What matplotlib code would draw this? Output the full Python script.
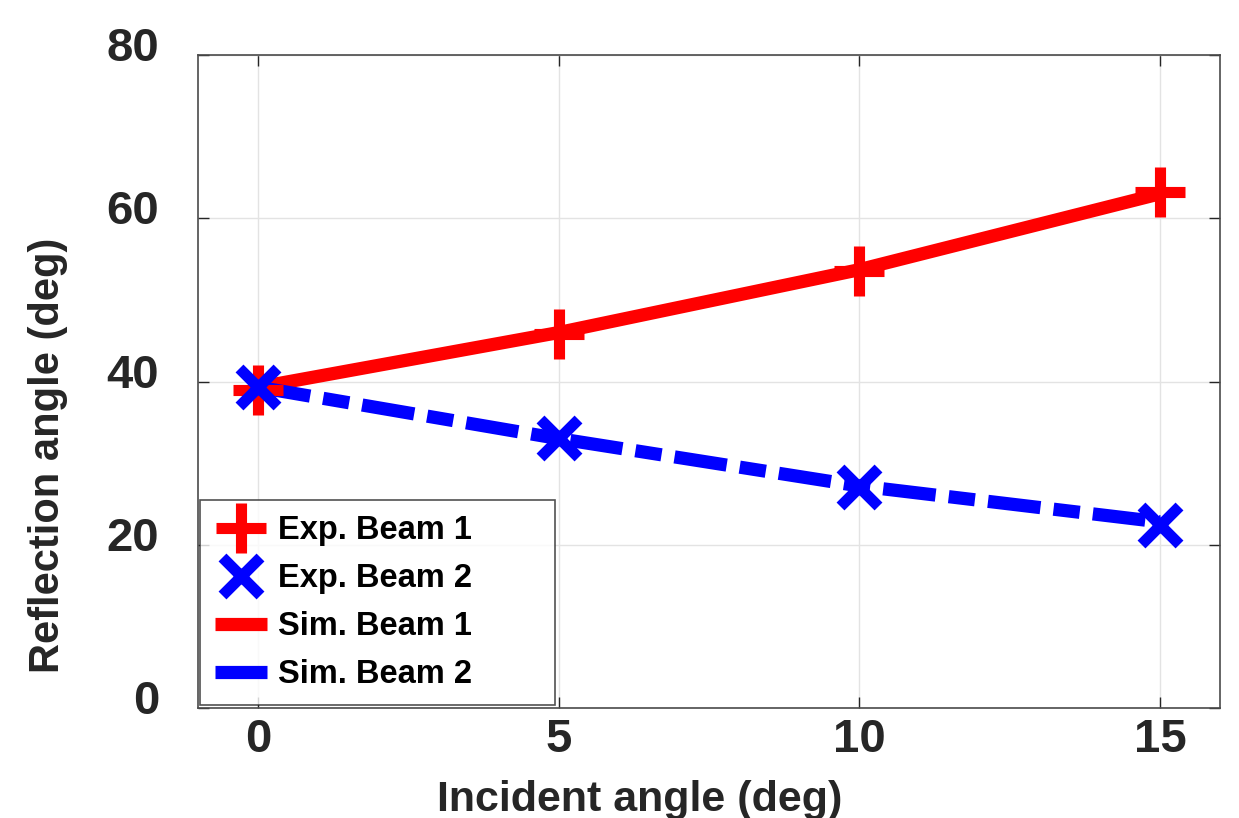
import numpy as np
import matplotlib.pyplot as plt
from matplotlib.transforms import ScaledTranslation

incident = [0, 5, 10, 15]
exp_beam1 = [39.0, 45.8, 53.5, 63.2]
exp_beam2 = [39.3, 33.1, 27.1, 22.4]
sim_beam1 = [39.3, 46.0, 53.7, 63.0]
sim_beam2 = [39.3, 33.0, 27.2, 22.8]

plt.rcParams['font.family'] = ['Liberation Sans', 'DejaVu Sans']
plt.rcParams['font.weight'] = 'bold'

fig = plt.figure(figsize=(12.39, 8.18), dpi=100)
ax = fig.add_axes([198 / 1239, 1 - 708 / 818, (1220 - 198) / 1239, (708 - 55) / 818])

ax.plot(incident, exp_beam1, linestyle='none', marker='+', color='red',
        markersize=36, markeredgewidth=8, label='Exp. Beam 1', zorder=4)
ax.plot(incident, exp_beam2, linestyle='none', marker='x', color='blue',
        markersize=28, markeredgewidth=8, label='Exp. Beam 2', zorder=4)
ax.plot(incident, sim_beam1, color='red', linewidth=9.5, solid_capstyle='butt',
        label='Sim. Beam 1', zorder=3)
ax.plot(incident, sim_beam2, color='blue', linewidth=9.5, dashes=(4.0, 1.0, 2.0, 1.0),
        dash_capstyle='butt', label='Sim. Beam 2', zorder=3)

ax.set_xlim(-1, 16)
ax.set_ylim(0, 80)
ax.set_xticks([0, 5, 10, 15])
ax.set_yticks([0, 20, 40, 60, 80])
ax.grid(True, color='#e3e3e3', linewidth=1)
ax.set_axisbelow(True)
ax.tick_params(direction='in', length=8, width=1, colors='#262626',
               top=True, right=True)
ax.tick_params(axis='x', labelsize=34, pad=7)
ax.tick_params(axis='y', labelsize=34, pad=28)
for lab in ax.get_xticklabels() + ax.get_yticklabels():
    lab.set_fontweight('bold')
    lab.set_color('#262626')
# y tick labels sit a little above their ticks in the original
shift = ScaledTranslation(0, 0.11, fig.dpi_scale_trans)
for tick in ax.yaxis.get_major_ticks():
    tick.label1.set_transform(tick.label1.get_transform() + shift)
for s in ax.spines.values():
    s.set_color('#4a4a4a')
    s.set_linewidth(1.2)

ax.set_xlabel('Incident angle (deg)', fontsize=31, fontweight='bold', color='#262626')
ax.xaxis.set_label_coords(0.4325, -0.11)
ax.set_ylabel('Reflection angle (deg)', fontsize=30, fontweight='bold', color='#262626')
ax.yaxis.set_label_coords(-0.127, 0.387)

leg = ax.legend(loc='lower left', bbox_to_anchor=(0.002, 0.005, 0.347, 0.3), mode='expand',
                fontsize=23.5, frameon=True, fancybox=False, edgecolor='#262626',
                handlelength=1.6, handletextpad=0.35, borderaxespad=0.0,
                labelspacing=0.52, borderpad=0.45)
leg.get_frame().set_linewidth(1.2)
for t in leg.get_texts():
    t.set_fontweight('bold')

fig.savefig('out.png', dpi=100)
